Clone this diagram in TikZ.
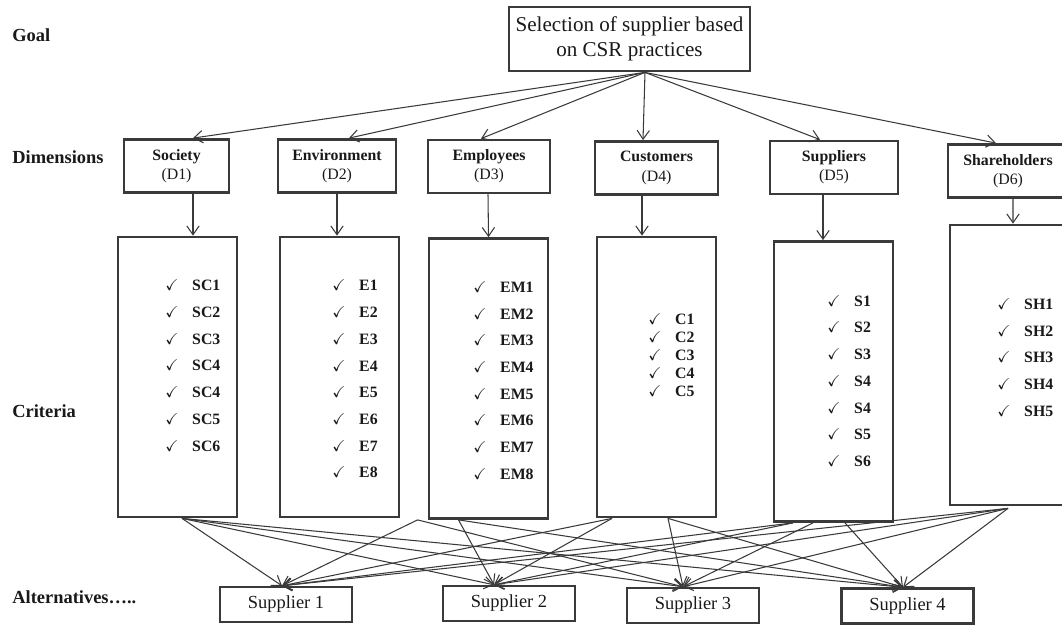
\documentclass[tikz,border=0pt]{standalone}
\usepackage{amssymb}
\usepackage{fontspec}
\setmainfont{Liberation Serif}
\usepackage{tikz}
\usetikzlibrary{
	arrows.meta,
	positioning,
	calc
}
\usepackage{xcolor}
\definecolor{boxgray}{HTML}{3A3A3A}
\newcommand{\critem}[1]{\makebox[15.3pt][l]{$\checkmark$}#1}

\begin{document}
\begin{tikzpicture}[x=0.02cm,y=-0.02cm,>={Straight Barb[length=5pt,width=7pt]},
	every node/.style={text=black!90},
	boxline/.style={draw=boxgray,line width=1.6pt,inner sep=0pt},
	goalbox/.style={boxline,minimum width=4.82cm,minimum height=1.28cm,align=center,font=\fontsize{12}{14}\selectfont},
	dimbox/.style={boxline,minimum height=1.06cm,align=center,font=\fontsize{9}{11}\selectfont},
	critbox/.style={boxline,minimum width=2.38cm,minimum height=5.6cm},
	critlist/.style={anchor=west,inner sep=0pt,align=left,font=\fontsize{9}{15.2}\selectfont\bfseries},
	supbox/.style={draw=boxgray,line width=1.4pt,minimum width=2.64cm,minimum height=0.7cm,font=\fontsize{10.5}{12}\selectfont},
	tierlabel/.style={anchor=west,inner sep=0pt,font=\fontsize{10.5}{13}\selectfont\bfseries},
	conn/.style={draw=boxgray,line width=0.6pt,->}]
			
			\useasboundingbox (0,0) rectangle (1062,626);
			
			\node[tierlabel] (goallbl) at (12,35) {Goal};
			\node[tierlabel] (dimlbl) at (12,157) {Dimensions};
			\node[tierlabel] (critlbl) at (12,411) {Criteria};
			\node[tierlabel] (altlbl) at (12,597) {Alternatives…..};
			
			\node[goalbox] (goal) at (629.5,39) {Selection of supplier based\\on CSR practices};
			
			\node[dimbox,minimum width=2.1cm] (soc) at (176.5,166) {\textbf{Society}\\(D1)};
			\node[dimbox,minimum width=2.36cm] (env) at (337,166) {\textbf{Environment}\\(D2)};
			\node[dimbox,minimum width=2.44cm] (emp) at (489,166.5) {\textbf{Employees}\\(D3)};
			\node[dimbox,minimum width=2.46cm] (cus) at (656.5,168) {\textbf{Customers}\\(D4)};
			\node[dimbox,minimum width=2.56cm] (sup) at (834,167.5) {\textbf{Suppliers}\\(D5)};
			\node[dimbox,minimum width=2.4cm] (sha) at (1008,171) {\textbf{Shareholders}\\(D6)};
			
			\node[critbox] (sc) at (177.5,377) {};
			\node[critbox] (en) at (339.5,377) {};
			\node[critbox] (em) at (488.5,378.5) {};
			\node[critbox] (cu) at (656.5,377) {};
			\node[critbox] (su) at (833.5,381.5) {};
			\node[critbox] (sh) at (1009.5,365) {};
			
			\node[critlist] (sclist) at (165,365.5) {\critem{SC1}\\\critem{SC2}\\\critem{SC3}\\\critem{SC4}\\\critem{SC4}\\\critem{SC5}\\\critem{SC6}};
			\node[critlist] (enlist) at (332,379) {\critem{E1}\\\critem{E2}\\\critem{E3}\\\critem{E4}\\\critem{E5}\\\critem{E6}\\\critem{E7}\\\critem{E8}};
			\node[critlist] (emlist) at (473,380.5) {\critem{EM1}\\\critem{EM2}\\\critem{EM3}\\\critem{EM4}\\\critem{EM5}\\\critem{EM6}\\\critem{EM7}\\\critem{EM8}};
			\node[critlist,font=\fontsize{9}{10.2}\selectfont\bfseries] (culist) at (648,355) {\critem{C1}\\\critem{C2}\\\critem{C3}\\\critem{C4}\\\critem{C5}};
			\node[critlist] (sulist) at (827,381) {\critem{S1}\\\critem{S2}\\\critem{S3}\\\critem{S4}\\\critem{S4}\\\critem{S5}\\\critem{S6}};
			\node[critlist] (shlist) at (997,357.5) {\critem{SH1}\\\critem{SH2}\\\critem{SH3}\\\critem{SH4}\\\critem{SH5}};
			
			\node[supbox] (alt1) at (286,604.5) {Supplier 1};
			\node[supbox] (alt2) at (509,603.5) {Supplier 2};
			\node[supbox] (alt3) at (693,605.5) {Supplier 3};
			\node[supbox] (alt4) at (907.5,606) {Supplier 4};
			
			\coordinate (goalout) at ($(goal.south)+(15.5,0)$);
			\draw[conn] (goalout) -- ($(soc.north)+(16.5,0)$);
			\draw[conn] (goalout) -- ($(env.north)+(12,0)$);
			\draw[conn] (goalout) -- ($(emp.north)+(-8,0)$);
			\draw[conn] (goalout) -- ($(cus.north)+(-13.5,0)$);
			\draw[conn] (goalout) -- ($(sup.north)+(-14,0)$);
			\draw[conn] (goalout) -- ($(sha.north)+(-12,0)$);
			
			\draw[conn] ($(soc.south)+(16.5,0)$) -- ($(sc.north)+(15.5,0)$);
			\draw[conn] (env.south) -- ($(en.north)+(-2.5,0)$);
			\draw[conn] ($(emp.south)+(-1,0)$) -- (em.north);
			\draw[conn] ($(cus.south)+(-14.5,0)$) -- ($(cu.north)+(-14.5,0)$);
			\draw[conn] ($(sup.south)+(-11,0)$) -- ($(su.north)+(-10.5,0)$);
			\draw[conn] ($(sha.south)+(5,0)$) -- ($(sh.north)+(3.5,0)$);
			
			\coordinate (scout) at ($(sc.south)+(4.5,0)$);
			\coordinate (emouta) at ($(em.south west)+(-10,0)$);
			\coordinate (emoutb) at ($(em.south)+(-30,0)$);
			\coordinate (cuouta) at ($(cu.south)+(-44.5,0)$);
			\coordinate (cuoutb) at ($(cu.south)+(11.5,0)$);
			\coordinate (suouta) at ($(su.south)+(-40.5,0)$);
			\coordinate (suoutb) at ($(su.south)+(-20.5,0)$);
			\coordinate (suoutc) at ($(su.south)+(11.5,0)$);
			\coordinate (shout) at ($(sh.south)+(-1.5,2)$);
			
			\coordinate (altin1) at ($(alt1.north)+(-4,0)$);
			\coordinate (altin2) at ($(alt2.north)+(-15,0)$);
			\coordinate (altin3) at ($(alt3.north)+(-10,0)$);
			\coordinate (altin4) at ($(alt4.north)+(-4.5,0)$);
			
			\draw[conn] (scout) -- (altin1);
			\draw[conn] (scout) -- (altin2);
			\draw[conn] (scout) -- (altin3);
			\draw[conn] (scout) -- (altin4);
			
			\draw[conn] (emouta) -- (altin1);
			\draw[conn] (emoutb) -- (altin2);
			\draw[conn] (emouta) -- (altin3);
			\draw[conn] (emoutb) -- (altin4);
			
			\draw[conn] (cuouta) -- (altin1);
			\draw[conn] (cuouta) -- (altin2);
			\draw[conn] (cuoutb) -- (altin3);
			\draw[conn] (cuoutb) -- (altin4);
			
			\draw[conn] (suouta) -- (altin1);
			\draw[conn] (suouta) -- (altin2);
			\draw[conn] (suoutb) -- (altin3);
			\draw[conn] (suoutc) -- (altin4);
			
			\draw[conn] (shout) -- (altin1);
			\draw[conn] (shout) -- (altin2);
			\draw[conn] (shout) -- (altin3);
			\draw[conn] (shout) -- (altin4);
			
		\end{tikzpicture}
\end{document}
